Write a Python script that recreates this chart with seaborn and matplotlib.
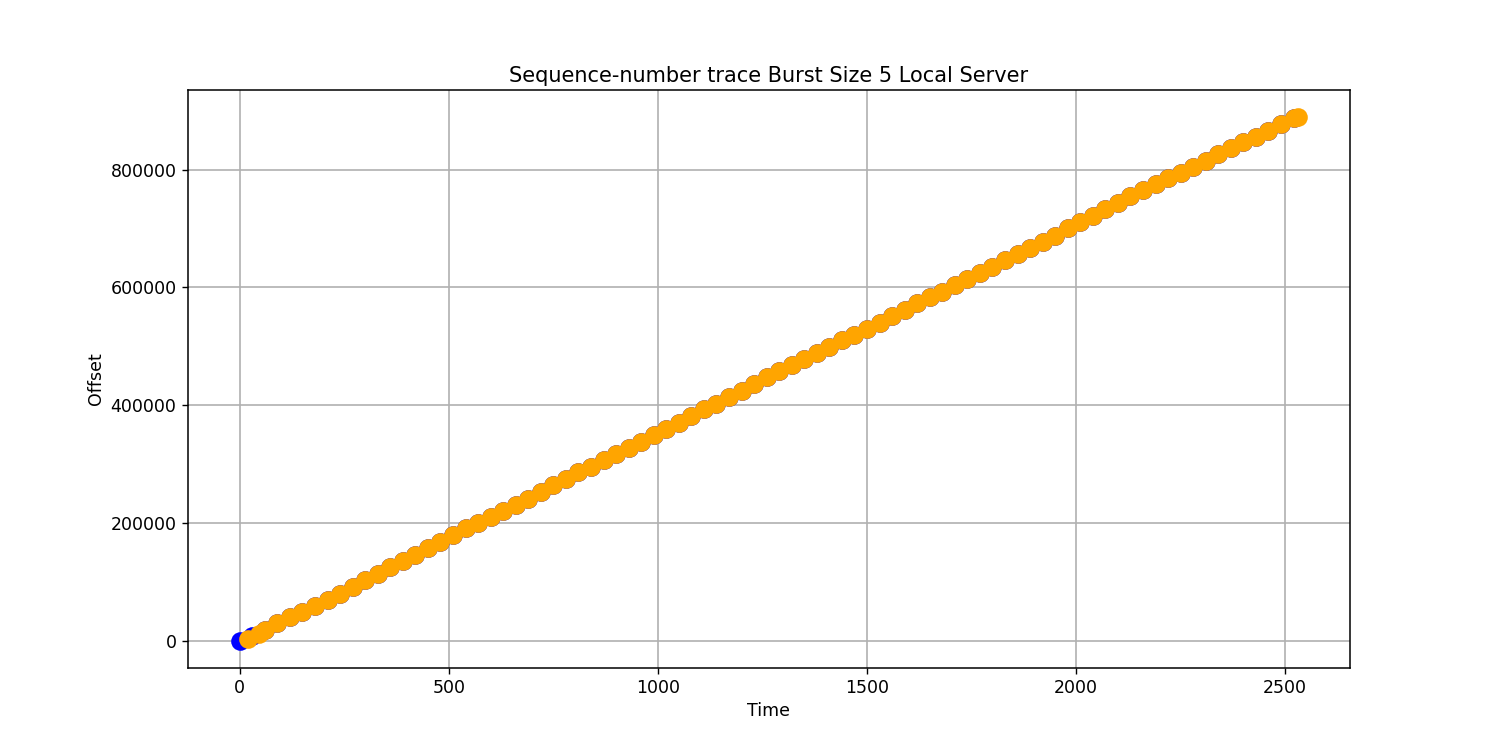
import matplotlib
matplotlib.use("Agg")
import matplotlib.pyplot as plt
import seaborn as sns
import pandas as pd

times = [0,30,60,90,120,150,180,210,240,270,300,330,360,390,420,450,480,510,540,570,
         600,630,660,690,720,750,780,810,840,870,900,930,960,990,1020,1050,1080,1110,1140,1170,
         1200,1230,1260,1290,1320,1350,1380,1410,1440,1470,1500,1530,1560,1590,1620,1650,1680,1710,1740,1770,
         1800,1830,1860,1890,1920,1950,1980,2010,2040,2070,2100,2130,2160,2190,2220,2250,2280,2310,2340,2370,
         2400,2430,2460,2490,2520]
offsets = [0,8000,18000,30000,41000,50000,60000,70000,80000,92000,103000,114000,125000,135000,146000,157000,168000,180000,191000,201000,
           211000,221000,231000,241000,252000,264000,275000,286000,296000,307000,318000,328000,338000,350000,360000,370000,382000,393000,403000,414000,
           425000,436000,448000,459000,468000,478000,489000,499000,510000,520000,529000,540000,551000,562000,573000,583000,593000,604000,615000,625000,
           635000,646000,656000,667000,677000,688000,700000,711000,722000,733000,744000,755000,765000,775000,786000,795000,804000,815000,826000,837000,
           847000,856000,866000,877000,888000]
orange_times = [20,45] + times[2:] + [2530]
orange_offsets = [3000,12000] + offsets[2:] + [890000]

blue = pd.DataFrame({"Time": times, "Offset": offsets})
orange = pd.DataFrame({"Time": orange_times, "Offset": orange_offsets})

fig, ax = plt.subplots(figsize=(15, 7.5), dpi=100)
ax.set_axisbelow(True)
ax.grid(True, color="#b0b0b0", linewidth=1.2)
sns.scatterplot(data=blue, x="Time", y="Offset", color="blue", s=180, linewidth=0, ax=ax, zorder=2)
sns.scatterplot(data=orange, x="Time", y="Offset", color="orange", s=180, linewidth=0, ax=ax, zorder=3)
ax.set_title("Sequence-number trace Burst Size 5 Local Server", fontsize=15)
ax.set_xlabel("Time", fontsize=12.5)
ax.set_ylabel("Offset", fontsize=12.5)
ax.tick_params(labelsize=12.5, length=4.5, width=1)
for sp in ax.spines.values():
    sp.set_linewidth(1.1)
ax.set_ylim(-45000, 935000)
ax.set_xlim(-125, 2655)
fig.savefig("out.png", dpi=100)
